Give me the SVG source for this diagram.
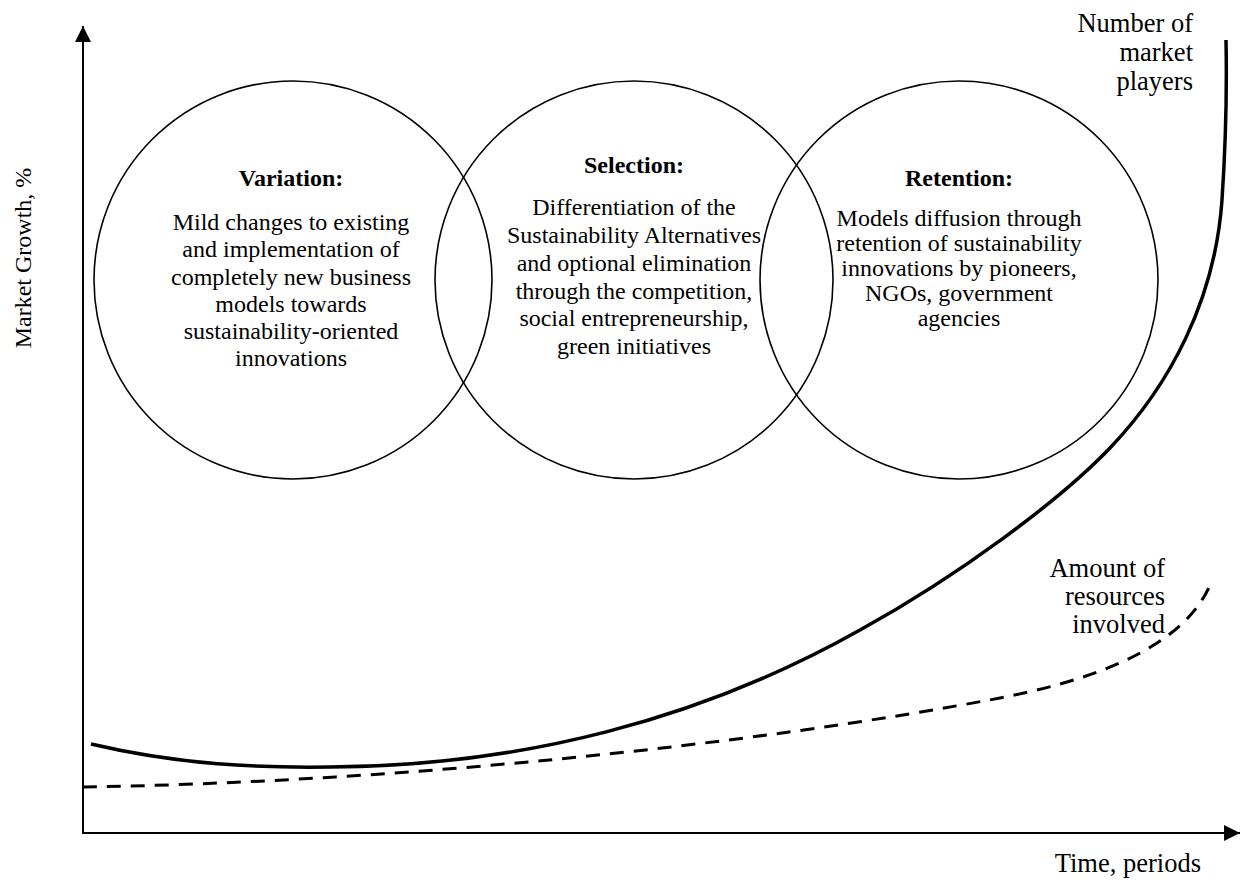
<svg xmlns="http://www.w3.org/2000/svg" width="1240" height="882" viewBox="0 0 1240 882">
<defs>
<marker id="arr" viewBox="0 0 16 16" refX="16" refY="8" markerWidth="16" markerHeight="16" markerUnits="userSpaceOnUse" orient="auto">
<path d="M0,0 L16,8 L0,16 Z" fill="#000"/>
</marker>
<style>
text{font-family:"Liberation Serif","Times New Roman",serif;font-size:24px;fill:#000}
.t{font-weight:bold;text-anchor:middle}
.c{text-anchor:middle}
.r{text-anchor:end}
.big{font-size:26.5px}
.circ{fill:none;stroke:#000;stroke-width:1.6}
.axis{stroke:#000;stroke-width:2;fill:none}
</style>
</defs>
<rect width="1240" height="882" fill="#fff"/>
<g id="connectors">
<line class="axis" x1="83" y1="834" x2="83" y2="26" marker-end="url(#arr)"/>
<line class="axis" x1="82" y1="833" x2="1240" y2="833" marker-end="url(#arr)"/>
<path id="players-curve" d="M91,744 C180,765 260,768 330,767 C520,766 700,720 860,630 C960,575 1060,500 1110,448 C1170,385 1215,300 1222,200 C1226,140 1227,90 1226,40" fill="none" stroke="#000" stroke-width="3.5"/>
<path id="resources-curve" d="M83,787 C400,782 750,745 1000,698 C1110,677 1190,640 1212,580" fill="none" stroke="#000" stroke-width="3" stroke-dasharray="14,10"/>
</g>
<g id="variation">
<circle class="circ" cx="293" cy="280" r="199"/>
<text class="t" x="291" y="186">Variation:</text>
<text class="c" x="291" y="230">Mild changes to existing</text>
<text class="c" x="291" y="257">and implementation of</text>
<text class="c" x="291" y="284.5">completely new business</text>
<text class="c" x="291" y="311.5">models towards</text>
<text class="c" x="291" y="339">sustainability-oriented</text>
<text class="c" x="291" y="366">innovations</text>
</g>
<g id="selection">
<circle class="circ" cx="634" cy="280" r="199"/>
<text class="t" x="634" y="173">Selection:</text>
<text class="c" x="634" y="215">Differentiation of the</text>
<text class="c" x="634" y="243">Sustainability Alternatives</text>
<text class="c" x="634" y="271">and optional elimination</text>
<text class="c" x="634" y="298.5">through the competition,</text>
<text class="c" x="634" y="326">social entrepreneurship,</text>
<text class="c" x="634" y="354">green initiatives</text>
</g>
<g id="retention">
<circle class="circ" cx="959" cy="280" r="199"/>
<text class="t" x="959" y="186">Retention:</text>
<text class="c" x="959" y="226">Models diffusion through</text>
<text class="c" x="959" y="251">retention of sustainability</text>
<text class="c" x="959" y="276">innovations by pioneers,</text>
<text class="c" x="959" y="301">NGOs, government</text>
<text class="c" x="959" y="326">agencies</text>
</g>
<g id="labels">
<text class="c" transform="translate(31,258) rotate(-90)">Market Growth, %</text>
<text class="r big" x="1201" y="872">Time, periods</text>
<text class="r big" x="1193" y="32">Number of</text>
<text class="r big" x="1193" y="61">market</text>
<text class="r big" x="1193" y="90">players</text>
<text class="r big" x="1165" y="577">Amount of</text>
<text class="r big" x="1165" y="605">resources</text>
<text class="r big" x="1165" y="633">involved</text>
</g>
</svg>
